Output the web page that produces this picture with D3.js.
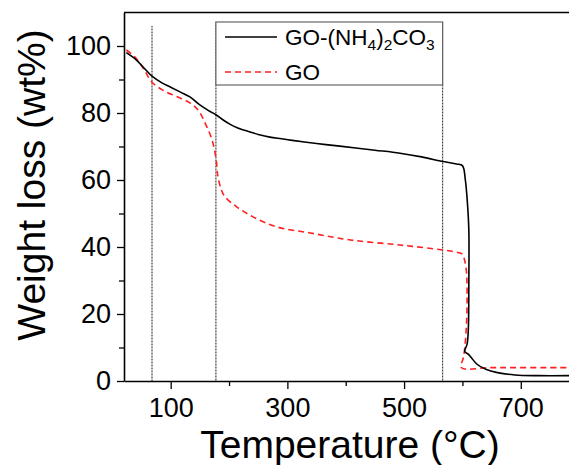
<!DOCTYPE html>
<html>
<head>
<meta charset="utf-8">
<script src="https://cdn.jsdelivr.net/npm/d3@7"></script>
<style>
  html, body { margin: 0; padding: 0; background: #fff; }
  svg { display: block; }
  text { font-family: "Liberation Sans", Arial, sans-serif; fill: #000; }
</style>
</head>
<body>
<div id="chart"></div>
<script>
// ---- data ----
const goCarbTemp = [24, 40, 55, 68, 85, 100, 116, 133, 150, 165, 178, 190, 202, 214, 225, 236, 250, 270, 290, 305, 350, 390, 450, 493, 530, 567, 590, 600, 605, 609, 611, 611, 610, 608, 604, 610, 616, 625, 640, 660, 690, 730, 783];
const goCarbWt   = [98.0, 96.0, 93.3, 91.0, 89.0, 87.7, 86.3, 84.8, 82.4, 80.7, 79.4, 77.9, 76.6, 75.6, 74.9, 74.3, 73.6, 72.8, 72.3, 71.9, 70.9, 70.1, 68.9, 68.0, 66.9, 65.5, 64.8, 64.3, 60.0, 52.0, 45.0, 30.0, 15.0, 11.0, 8.8, 8.0, 6.8, 5.0, 3.5, 2.5, 1.8, 1.6, 1.6];
const goTemp = [24, 40, 55, 68, 90, 116, 133, 147, 159, 171, 178, 181, 187, 193, 213, 241, 282, 339, 408, 493, 567, 596, 600, 606, 608, 606, 602, 598, 650, 783];
const goWt   = [98.8, 96.5, 92.8, 89.2, 86.5, 84.5, 83.0, 80.9, 77.0, 71.9, 66.0, 61.0, 57.0, 55.0, 52.0, 49.0, 46.0, 44.2, 42.1, 40.6, 39.1, 38.2, 37.8, 34.0, 25.0, 14.0, 7.2, 4.0, 4.0, 4.0];
const refLineTemps = [68, 177.5, 566];
const xTicksMajor = [100, 300, 500, 700];
const xTicksMinor = [200, 400, 600];
const yTicksMajor = [0, 20, 40, 60, 80, 100];
const yTicksMinor = [10, 30, 50, 70, 90];
const seriesNames = ["GO-(NH4)2CO3", "GO"];

// ---- layout ----
const W = 569, H = 465;
const mLeft = 124, mTop = 12.5, mBottom = 381;
const svg = d3.select("#chart").append("svg").attr("width", W).attr("height", H);

const x = d3.scaleLinear().domain([20, 800]).range([mLeft, mLeft + 780 * 0.5835]);
const y = d3.scaleLinear().domain([0, 110]).range([mBottom, mTop]);

// reference vertical lines (dotted gray)
const legX0 = x(refLineTemps[1]), legX1 = x(refLineTemps[2]);
const legTop = 22, legBot = 85;
svg.append("line").attr("x1", x(refLineTemps[0])).attr("x2", x(refLineTemps[0]))
  .attr("y1", 26).attr("y2", mBottom)
  .attr("stroke", "#444").attr("stroke-width", 1.2).attr("stroke-dasharray", "1,0.5");
[legX0, legX1].forEach(px => {
  svg.append("line").attr("x1", px).attr("x2", px)
    .attr("y1", legTop).attr("y2", mBottom)
    .attr("stroke", "#444").attr("stroke-width", 1.2).attr("stroke-dasharray", "1,0.5");
});
// legend box
svg.append("rect").attr("x", legX0).attr("y", legTop)
  .attr("width", legX1 - legX0).attr("height", legBot - legTop)
  .attr("fill", "#fff").attr("stroke", "#666").attr("stroke-width", 1.2);

// curves
const line = d3.line().x(d => x(d[0])).y(d => y(d[1])).curve(d3.curveCatmullRom.alpha(0.5));
svg.append("path").datum(goTemp.map((t, i) => [t, goWt[i]]))
  .attr("d", line).attr("fill", "none").attr("stroke", "#ff2020")
  .attr("stroke-width", 1.6).attr("stroke-dasharray", "6,4");
svg.append("path").datum(goCarbTemp.map((t, i) => [t, goCarbWt[i]]))
  .attr("d", line).attr("fill", "none").attr("stroke", "#000")
  .attr("stroke-width", 1.6);

// axes
svg.append("g").attr("transform", `translate(0,${mBottom})`)
  .call(d3.axisBottom(x).tickValues(xTicksMajor).tickSize(8).tickSizeOuter(0).tickPadding(9));
svg.append("g").attr("transform", `translate(0,${mBottom})`)
  .call(d3.axisBottom(x).tickValues(xTicksMinor).tickSize(5).tickFormat("").tickSizeOuter(0))
  .select(".domain").remove();
svg.append("g").attr("transform", `translate(${mLeft},0)`)
  .call(d3.axisLeft(y).tickValues(yTicksMajor).tickSize(7).tickSizeOuter(0).tickPadding(6));
svg.append("g").attr("transform", `translate(${mLeft},0)`)
  .call(d3.axisLeft(y).tickValues(yTicksMinor).tickSize(5).tickFormat("").tickSizeOuter(0))
  .select(".domain").remove();
svg.selectAll(".domain").attr("stroke", "#000").attr("stroke-width", 1.6);
svg.selectAll(".tick line").attr("stroke", "#000").attr("stroke-width", 1.3);
svg.selectAll(".tick text").style("font-size", "27px").style("font-family", "'Liberation Sans', Arial, sans-serif").attr("fill", "#000");
// top frame line
svg.append("line").attr("x1", mLeft).attr("x2", W).attr("y1", mTop).attr("y2", mTop)
  .attr("stroke", "#000").attr("stroke-width", 1.6);

// axis titles
svg.append("text").attr("x", 350).attr("y", 458).attr("text-anchor", "middle")
  .style("font-size", "39px").text("Temperature (°C)");
svg.append("text").attr("transform", "translate(45,185) rotate(-90)").attr("text-anchor", "middle")
  .style("font-size", "39px").text("Weight loss (wt%)");

// legend entries
const lg = svg.append("g");
lg.append("line").attr("x1", 225).attr("x2", 277).attr("y1", 37).attr("y2", 37)
  .attr("stroke", "#000").attr("stroke-width", 1.6);
const t1 = lg.append("text").attr("x", 285).attr("y", 45).style("font-size", "22.5px");
t1.append("tspan").text("GO-(NH");
t1.append("tspan").attr("dy", 5).style("font-size", "15.5px").text("4");
t1.append("tspan").attr("dy", -5).text(")");
t1.append("tspan").attr("dy", 5).style("font-size", "15.5px").text("2");
t1.append("tspan").attr("dy", -5).text("CO");
t1.append("tspan").attr("dy", 5).style("font-size", "15.5px").text("3");
lg.append("line").attr("x1", 225).attr("x2", 277).attr("y1", 72).attr("y2", 72)
  .attr("stroke", "#ff2020").attr("stroke-width", 1.6).attr("stroke-dasharray", "6,4");
lg.append("text").attr("x", 285).attr("y", 80).style("font-size", "22.5px").text(seriesNames[1]);
</script>
</body>
</html>
